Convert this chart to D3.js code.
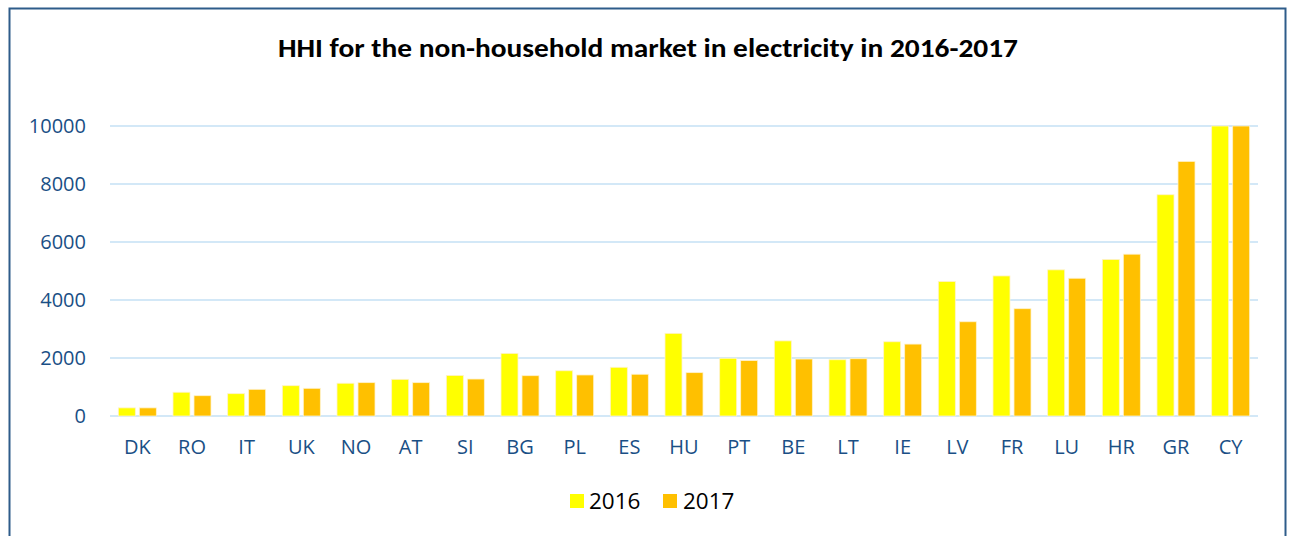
<!DOCTYPE html>
<html><head><meta charset="utf-8">
<script src="https://cdn.jsdelivr.net/npm/d3@7"></script>
<style>body{margin:0;background:#fff}svg{display:block}</style>
</head><body>
<script>
const categories = ["DK","RO","IT","UK","NO","AT","SI","BG","PL","ES","HU","PT","BE","LT","IE","LV","FR","LU","HR","GR","CY"];
const values2016 = [280,820,770,1045,1130,1265,1400,2160,1560,1680,2850,1990,2590,1940,2560,4640,4830,5040,5400,7630,10000];
const values2017 = [280,700,920,955,1150,1150,1275,1390,1415,1440,1495,1910,1965,1975,2480,3250,3700,4750,5580,8780,10000];
const seriesNames = ["2016","2017"];
const colors = ["#FFFF00","#FFC000"];
const yTicks = [0,2000,4000,6000,8000,10000];
const title = "HHI for the non-household market in electricity in 2016-2017";

const W = 1289, H = 536;
const svg = d3.select("body").append("svg").attr("width", W).attr("height", H);
svg.append("rect").attr("x",9.5).attr("y",8.5).attr("width",1276).attr("height",540)
  .attr("fill","#fff").attr("stroke","#2E5C8A").attr("stroke-width",2);

const x0 = d3.scaleBand().domain(categories).range([110,1258]).paddingInner(0).paddingOuter(0);
const y = d3.scaleLinear().domain([0,10000]).range([416,126]);

const labelFont = "'Open Sans', 'Liberation Sans', sans-serif";
const titleFont = "Carlito, Lato, 'Liberation Sans', sans-serif";

// grid
svg.append("g").selectAll("line").data(yTicks).join("line")
  .attr("x1",110).attr("x2",1258).attr("y1",d=>y(d)).attr("y2",d=>y(d))
  .attr("stroke","#C5E0F5").attr("stroke-width",1.5);

// y labels
svg.append("g").selectAll("text").data(yTicks).join("text")
  .attr("x",86).attr("y",d=>y(d)).attr("dy","0.36em").attr("text-anchor","end")
  .attr("font-family",labelFont).attr("font-size",20).attr("fill","#1A4F85").text(d=>d);

// bars
const bw = 17, gap = 4;
const data = categories.map((c,i)=>({c, v:[values2016[i], values2017[i]]}));
const g = svg.append("g");
data.forEach(d=>{
  const cx = x0(d.c) + x0.bandwidth()/2;
  d.v.forEach((v,s)=>{
    const xs = s===0 ? cx - gap/2 - bw : cx + gap/2;
    g.append("rect").attr("x",xs).attr("y",y(v)).attr("width",bw).attr("height",y(0)-y(v))
      .attr("fill",colors[s]).attr("stroke","#FFF2CC").attr("stroke-width",0.8);
  });
});

// x labels
svg.append("g").selectAll("text").data(categories).join("text")
  .attr("x",d=>x0(d)+x0.bandwidth()/2).attr("y",447).attr("dy","0.36em").attr("text-anchor","middle")
  .attr("font-family",labelFont).attr("font-size",20).attr("fill","#1A4F85").text(d=>d);

// title
svg.append("text").attr("x",648).attr("y",48).attr("dy","0.36em").attr("text-anchor","middle")
  .attr("font-family",titleFont).attr("font-weight","bold").attr("font-size",25.5).attr("fill","#000")
  .attr("textLength",740).attr("lengthAdjust","spacingAndGlyphs").text(title);

// legend
const leg = [{x:570,tx:589},{x:663,tx:683}];
seriesNames.forEach((n,i)=>{
  svg.append("rect").attr("x",leg[i].x).attr("y",494).attr("width",14).attr("height",14).attr("fill",colors[i]);
  svg.append("text").attr("x",leg[i].tx).attr("y",501).attr("dy","0.36em")
    .attr("font-family",labelFont).attr("font-size",22.5).attr("fill","#000").text(n);
});
</script>
</body></html>
